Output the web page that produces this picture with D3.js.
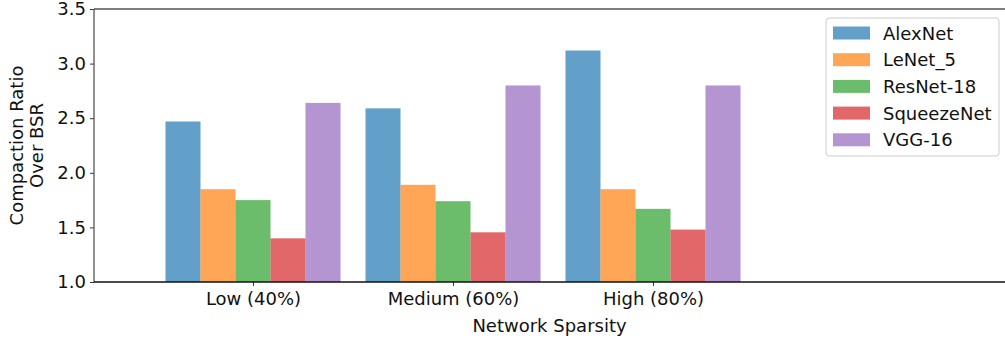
<!DOCTYPE html>
<html>
<head>
<meta charset="utf-8">
<script src="https://cdn.jsdelivr.net/npm/d3@7"></script>
<style>
  body { margin: 0; background: #fff; }
  text { font-family: "DejaVu Sans", sans-serif; fill: #111; }
</style>
</head>
<body>
<div id="chart"></div>
<script>
// Data
const groups = ["Low (40%)", "Medium (60%)", "High (80%)"];
const models = ["AlexNet", "LeNet_5", "ResNet-18", "SqueezeNet", "VGG-16"];
const alexnet = [2.47, 2.59, 3.12];
const lenet5 = [1.85, 1.89, 1.85];
const resnet18 = [1.75, 1.74, 1.67];
const squeezenet = [1.40, 1.455, 1.48];
const vgg16 = [2.64, 2.80, 2.80];
const yTicks = [1.0, 1.5, 2.0, 2.5, 3.0, 3.5];
const colors = ["#1f77b4", "#ff7f0e", "#2ca02c", "#d62728", "#9467bd"];

const series = [alexnet, lenet5, resnet18, squeezenet, vgg16];

const W = 1005, H = 341;
const plot = { left: 94, right: 1005, top: 9, bottom: 282 };
const fs = "18px";

const svg = d3.select("#chart").append("svg")
  .attr("width", W).attr("height", H);

// x is a continuous scale in group-index units, like matplotlib
const x = d3.scaleLinear().domain([-0.795, 3.76]).range([plot.left, plot.right]);
const y = d3.scaleLinear().domain([1.0, 3.5]).range([plot.bottom, plot.top]);
const barW = 0.175;

// Bars
series.forEach((vals, si) => {
  svg.append("g")
    .selectAll("rect")
    .data(vals)
    .enter().append("rect")
      .attr("x", (d, i) => x(i + (si - 2) * barW - barW / 2))
      .attr("y", d => y(d))
      .attr("width", x(barW) - x(0))
      .attr("height", d => y(1.0) - y(d))
      .attr("fill", colors[si])
      .attr("fill-opacity", 0.7);
});

// Y axis
const yAxis = svg.append("g")
  .attr("transform", `translate(${plot.left},0)`)
  .call(d3.axisLeft(y).tickValues(yTicks).tickFormat(d3.format(".1f")).tickSize(4).tickPadding(4));
yAxis.select(".domain").remove();
yAxis.selectAll("text").style("font-size", fs);
yAxis.selectAll("line").attr("stroke", "#333");

// X axis
const xAxis = svg.append("g")
  .attr("transform", `translate(0,${plot.bottom})`)
  .call(d3.axisBottom(x).tickValues([0, 1, 2]).tickFormat((d, i) => groups[i]).tickSize(4).tickPadding(6));
xAxis.select(".domain").remove();
xAxis.selectAll("text").style("font-size", fs);
xAxis.selectAll("line").attr("stroke", "#333");

// Spines
svg.append("line").attr("x1", plot.left).attr("x2", plot.left).attr("y1", plot.top).attr("y2", plot.bottom)
  .attr("stroke", "#555").attr("stroke-width", 1.3);
svg.append("line").attr("x1", plot.left).attr("x2", plot.right).attr("y1", plot.top).attr("y2", plot.top)
  .attr("stroke", "#555").attr("stroke-width", 1.3);
svg.append("line").attr("x1", plot.left).attr("x2", plot.right).attr("y1", plot.bottom).attr("y2", plot.bottom)
  .attr("stroke", "#111").attr("stroke-width", 1.3);

// Axis labels
svg.append("text")
  .attr("x", (plot.left + plot.right) / 2).attr("y", 332)
  .attr("text-anchor", "middle").style("font-size", fs)
  .text("Network Sparsity");

const yl = svg.append("text")
  .attr("transform", `translate(23,${(plot.top + plot.bottom) / 2}) rotate(-90)`)
  .attr("text-anchor", "middle").style("font-size", fs);
yl.append("tspan").attr("x", 0).attr("dy", 0).text("Compaction Ratio");
yl.append("tspan").attr("x", 0).attr("dy", 20).text("Over BSR");

// Legend
const legend = svg.append("g").attr("transform", "translate(826,18)");
legend.append("rect")
  .attr("width", 173).attr("height", 138).attr("rx", 3)
  .attr("fill", "#fff").attr("fill-opacity", 0.8)
  .attr("stroke", "#ccc");
models.forEach((m, i) => {
  const row = legend.append("g").attr("transform", `translate(0,${15 + i * 26.7})`);
  row.append("rect")
    .attr("x", 7).attr("y", -6.5).attr("width", 37).attr("height", 13)
    .attr("fill", colors[i]).attr("fill-opacity", 0.7);
  row.append("text")
    .attr("x", 57).attr("y", 6.5)
    .style("font-size", fs)
    .text(m);
});
</script>
</body>
</html>
